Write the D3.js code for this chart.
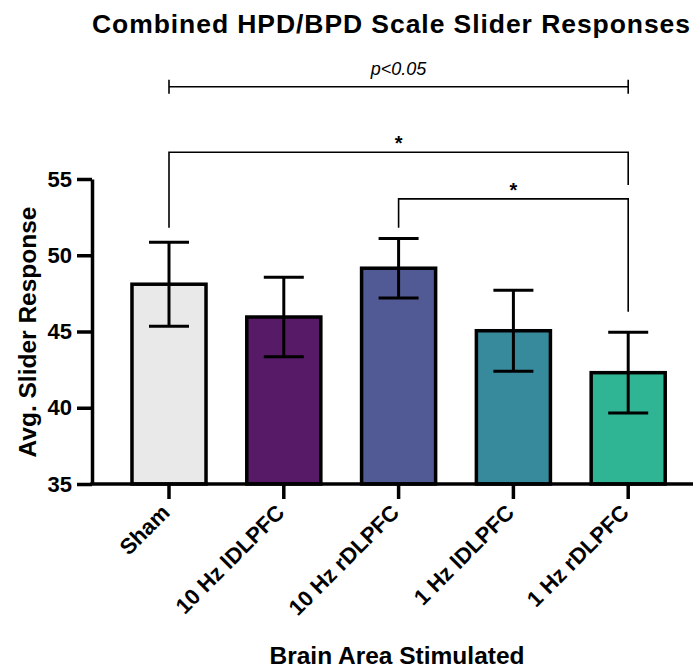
<!DOCTYPE html>
<html><head><meta charset="utf-8">
<script src="https://cdn.jsdelivr.net/npm/d3@7"></script>
<style>body{margin:0;background:#fff;} text{font-family:"Liberation Sans",Arial,Helvetica,sans-serif;}</style>
</head><body><svg id="c" width="693" height="669"></svg>
<script>
const categories = ["Sham","10 Hz lDLPFC","10 Hz rDLPFC","1 Hz lDLPFC","1 Hz rDLPFC"];
const means = [48.1, 45.95, 49.15, 45.05, 42.3];
const sems = [2.75, 2.6, 1.95, 2.65, 2.65];
const colors = ["#e9e9e9","#561a66","#525a96","#378a9c","#2fb594"];
const yTicks = [35,40,45,50,55];
// significance brackets (levels in data units)
const sigBrackets = [
  {from:"Sham", to:"1 Hz rDLPFC", level:56.75, leftEnd:51.8, rightEnd:54.6, label:"*"},
  {from:"10 Hz rDLPFC", to:"1 Hz rDLPFC", level:53.7, leftEnd:51.8, rightEnd:46.3, label:"*"}
];
const overall = {from:"Sham", to:"1 Hz rDLPFC", level:61.05, label:"p<0.05"};

const svg = d3.select("#c");
const y = d3.scaleLinear().domain([35,55]).range([484,179]);
const x = d3.scaleBand().domain(categories).range([111.6,685.6]).paddingInner(0.355).paddingOuter(0.1775);
const cx = c => x(c) + x.bandwidth()/2;

// title
svg.append("text").attr("x",92).attr("y",33).attr("font-size",26.5).attr("font-weight","bold").attr("fill","#000")
  .attr("textLength",598).attr("lengthAdjust","spacing")
  .text("Combined HPD/BPD Scale Slider Responses");

// bars
svg.append("g").selectAll("rect").data(categories).join("rect")
  .attr("x", d=>x(d)).attr("width", x.bandwidth())
  .attr("y", (d,i)=>y(means[i])).attr("height",(d,i)=>y(35)-y(means[i]))
  .attr("fill",(d,i)=>colors[i]).attr("stroke","#000").attr("stroke-width",3.5);

// error bars
const eg = svg.append("g").attr("stroke","#000").attr("stroke-width",3).attr("fill","none");
categories.forEach((c,i)=>{
  const X = cx(c), hi = y(means[i]+sems[i]), lo = y(means[i]-sems[i]);
  eg.append("line").attr("x1",X).attr("x2",X).attr("y1",hi).attr("y2",lo);
  eg.append("line").attr("x1",X-20).attr("x2",X+20).attr("y1",hi).attr("y2",hi);
  eg.append("line").attr("x1",X-20).attr("x2",X+20).attr("y1",lo).attr("y2",lo);
});

// y axis
const ya = svg.append("g").attr("transform","translate(92,0)")
  .call(d3.axisLeft(y).tickValues(yTicks).tickSize(15).tickSizeOuter(0).tickPadding(5));
ya.select(".domain").attr("stroke-width",3.5);
ya.selectAll(".tick line").attr("stroke-width",3.5);
ya.selectAll(".tick text").attr("font-size",22).attr("font-weight","bold").attr("fill","#000")
  .attr("font-family","'Liberation Sans',Arial,sans-serif");

// x axis
svg.append("line").attr("x1",90.25).attr("x2",693).attr("y1",y(35)).attr("y2",y(35)).attr("stroke","#000").attr("stroke-width",3.5);
const xa = svg.append("g").attr("transform",`translate(0,${y(35)})`)
  .call(d3.axisBottom(x).tickSize(15).tickSizeOuter(0));
xa.select(".domain").remove();
xa.selectAll(".tick line").attr("stroke-width",3.5);
xa.selectAll(".tick text").attr("font-size",22).attr("font-weight","bold").attr("fill","#000")
  .attr("font-family","'Liberation Sans',Arial,sans-serif")
  .attr("text-anchor","end").attr("dy",0).attr("y",0)
  .attr("transform","translate(2,30) rotate(-45)");

// axis titles
svg.append("text").attr("transform","translate(36,332) rotate(-90)").attr("text-anchor","middle")
  .attr("font-size",24.5).attr("font-weight","bold").text("Avg. Slider Response");
svg.append("text").attr("x",397).attr("y",664).attr("text-anchor","middle")
  .attr("font-size",24.5).attr("font-weight","bold").text("Brain Area Stimulated");

// brackets
const bg = svg.append("g").attr("stroke","#000").attr("stroke-width",1.6).attr("fill","none");
sigBrackets.forEach(b=>{
  const x1 = cx(b.from), x2 = cx(b.to), L = y(b.level);
  bg.append("path").attr("d",`M${x1},${y(b.leftEnd)}V${L}H${x2}V${y(b.rightEnd)}`);
  svg.append("text").attr("x",(x1+x2)/2).attr("y",L-2).attr("text-anchor","middle")
    .attr("font-size",20).attr("font-weight","bold").text(b.label);
});
{
  const x1 = cx(overall.from), x2 = cx(overall.to), L = y(overall.level);
  bg.append("line").attr("x1",x1).attr("x2",x2).attr("y1",L).attr("y2",L);
  bg.append("line").attr("x1",x1).attr("x2",x1).attr("y1",L-7).attr("y2",L+7);
  bg.append("line").attr("x1",x2).attr("x2",x2).attr("y1",L-7).attr("y2",L+7);
  svg.append("text").attr("x",(x1+x2)/2).attr("y",L-12).attr("text-anchor","middle")
    .attr("font-size",18).attr("font-style","italic").text(overall.label);
}
</script></body></html>
